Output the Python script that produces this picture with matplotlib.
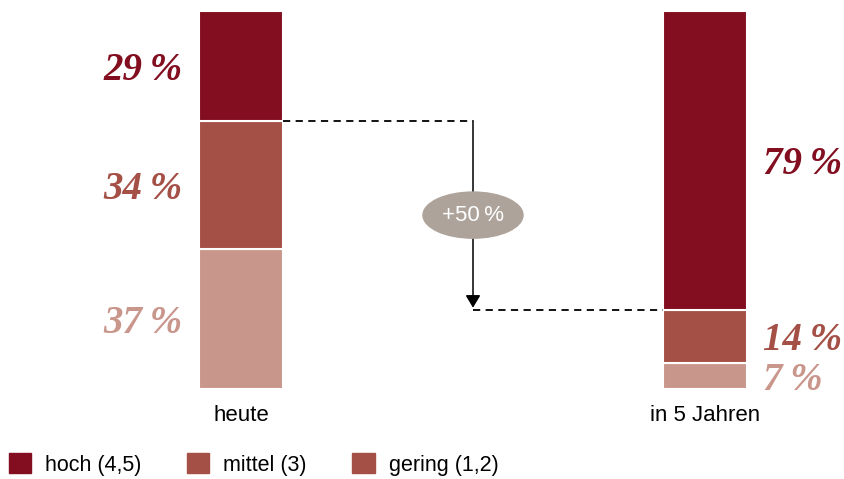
import matplotlib.pyplot as plt
from matplotlib.patches import Ellipse, Patch

plt.rcParams['font.family'] = ['Liberation Sans', 'DejaVu Sans']

groups = ['heute', 'in 5 Jahren']
levels = ['gering (1,2)', 'mittel (3)', 'hoch (4,5)']
gering = [37, 7]
mittel = [34, 14]
hoch = [29, 79]
change_label = '+50\u2009%'

c_hoch = '#820e20'
c_mittel = '#a55046'
c_gering = '#c9968c'
colors = [c_gering, c_mittel, c_hoch]

fig = plt.figure(figsize=(8.45, 4.79), dpi=100)
ax = fig.add_axes([0, 90 / 479, 1, 378 / 479])

x = [0, 1]
w = 0.181
series = [gering, mittel, hoch]
bottom = [0, 0]
for vals, col in zip(series, colors):
    ax.bar(x, vals, width=w, bottom=bottom, color=col, edgecolor='white', linewidth=1.5)
    for i in range(2):
        yc = bottom[i] + vals[i] / 2
        txt = f'{vals[i]}\u2009%'
        if i == 0:
            ax.text(x[i] - w / 2 - 0.035, yc - 1.2, txt, ha='right', va='center',
                    color=col, fontsize=28, family='Liberation Serif',
                    fontweight='bold', fontstyle='italic')
        else:
            ax.text(x[i] + w / 2 + 0.035, yc - 1.2, txt, ha='left', va='center',
                    color=col, fontsize=28, family='Liberation Serif',
                    fontweight='bold', fontstyle='italic')
    bottom = [bottom[j] + vals[j] for j in range(2)]

# connectors
y_top = gering[0] + mittel[0]
y_bot = gering[1] + mittel[1]
xm = 0.5
ax.plot([x[0] + w / 2, xm], [y_top, y_top], color='black', lw=1.3, ls=(0, (4, 3)))
ax.plot([xm, x[1] - w / 2], [y_bot, y_bot], color='black', lw=1.3, ls=(0, (4, 3)))
ax.annotate('', xy=(xm, y_bot + 0.5), xytext=(xm, y_top),
            arrowprops=dict(arrowstyle='-|>,head_width=0.45,head_length=0.75',
                            color='black', lw=1.1, shrinkA=0, shrinkB=0))
ym = (y_top + y_bot) / 2
ax.add_patch(Ellipse((xm, ym), 0.2155, 12.2, color='#ada39b', zorder=5))
ax.text(xm, ym, change_label, ha='center', va='center', color='white',
        fontsize=16, zorder=6)

ax.set_xlim(-241 / 464, 604 / 464)
ax.set_ylim(0, 100)
ax.set_xticks(x)
ax.set_xticklabels(groups, fontsize=16)
ax.tick_params(axis='x', length=0, pad=11.5)
ax.set_yticks([])
for s in ax.spines.values():
    s.set_visible(False)

handles = [Patch(color=c_hoch), Patch(color=c_mittel), Patch(color=c_mittel)]
fig.legend(handles, levels[::-1], loc='lower left', bbox_to_anchor=(0.0, -0.011),
           ncol=3, frameon=False, fontsize=15.5, handlelength=1.05, handleheight=1.05,
           handletextpad=0.65, columnspacing=2.1, borderaxespad=0)

fig.savefig('out.png', dpi=100)
